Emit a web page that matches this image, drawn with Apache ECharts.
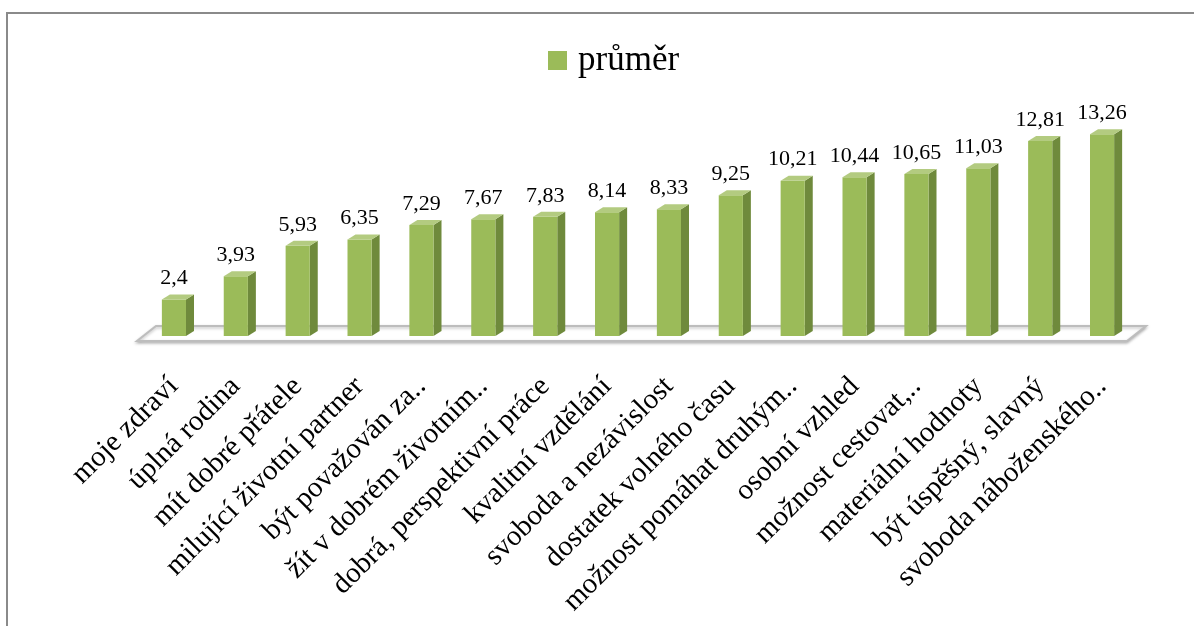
<!DOCTYPE html>
<html>
<head>
<meta charset="utf-8">
<script src="https://cdn.jsdelivr.net/npm/echarts@6/dist/echarts.min.js"></script>
<style>
html,body{margin:0;padding:0;background:#fff;}
#chart{width:1194px;height:626px;}
</style>
</head>
<body>
<div id="chart"></div>
<script>
var categories = [
  'moje zdraví',
  'úplná rodina',
  'mít dobré přátele',
  'milující životní partner',
  'být považován za..',
  'žít v dobrém životním..',
  'dobrá, perspektivní práce',
  'kvalitní vzdělání',
  'svoboda a nezávislost',
  'dostatek volného času',
  'možnost pomáhat druhým..',
  'osobní vzhled',
  'možnost cestovat,..',
  'materiální hodnoty',
  'být úspěšný, slavný',
  'svoboda náboženského..'
];
var seriesName = 'průměr';
var values = [2.4, 3.93, 5.93, 6.35, 7.29, 7.67, 7.83, 8.14, 8.33, 9.25, 10.21, 10.44, 10.65, 11.03, 12.81, 13.26];

var SERIF = '"Liberation Serif", "Times New Roman", serif';
var FRONT = '#9BBB59', SIDE = '#6F8A3C', TOP = '#B3CB80';
var DX = 8, DY = 5;

var chart = echarts.init(document.getElementById('chart'));

function fmt(v){ return String(v).replace('.', ','); }

var option = {
  animation: false,
  backgroundColor: '#ffffff',
  legend: {
    data: [seriesName],
    left: 543,
    top: 38,
    itemWidth: 19,
    itemHeight: 19,
    icon: 'rect',
    textStyle: { fontFamily: SERIF, fontSize: 35, color: '#000', padding: [0,0,0,6] }
  },
  grid: { left: 143, right: 61, top: 123, bottom: 290, containLabel: false, outerBoundsMode: 'none' },
  xAxis: {
    type: 'category',
    data: categories,
    axisLine: { show: false },
    axisTick: { show: false },
    axisLabel: {
      rotate: 45,
      interval: 0,
      margin: 46,
      fontFamily: SERIF,
      fontSize: 29,
      color: '#000'
    }
  },
  yAxis: { type: 'value', min: 0, max: 14, show: false },
  graphic: [{
    type: 'polyline',
    shape: { points: [[7, 626], [7, 13], [1194, 13]] },
    style: { stroke: '#8a8a8a', lineWidth: 2, fill: null },
    z: 100
  }],
  series: [
    {
      type: 'custom',
      name: 'floor',
      silent: true,
      clip: false,
      z: 1,
      data: [[0, 0]],
      renderItem: function (params, api) {
        var cs = params.coordSys;
        var x = cs.x, w = cs.width, b = cs.y + cs.height;
        return {
          type: 'polygon',
          shape: { points: [[x - 6, b + 5], [x + w - 6, b + 5], [x + w + 13, b - 10], [x + 13, b - 10]] },
          style: {
            fill: '#ffffff', stroke: '#BDBDBD', lineWidth: 2,
            shadowBlur: 3, shadowColor: 'rgba(0,0,0,0.25)', shadowOffsetY: 1.5
          }
        };
      }
    },
    {
      type: 'custom',
      name: seriesName,
      clip: false,
      z: 2,
      itemStyle: { color: FRONT },
      data: values.map(function (v, i) { return [i, v]; }),
      renderItem: function (params, api) {
        var cat = api.value(0), v = api.value(1);
        var top = api.coord([cat, v]);
        var bot = api.coord([cat, 0]);
        var bw = api.size([1, 0])[0] * 0.39;
        var x0 = top[0] - bw / 2, x1 = x0 + bw;
        var t = top[1], b = bot[1];
        return {
          type: 'group',
          children: [
            { type: 'polygon', shape: { points: [[x1, t], [x1 + DX, t - DY], [x1 + DX, b - DY], [x1, b]] },
              style: { fill: SIDE } },
            { type: 'rect', shape: { x: x0, y: t, width: bw, height: b - t },
              style: { fill: FRONT } },
            { type: 'polygon', shape: { points: [[x0, t], [x1, t], [x1 + DX, t - DY], [x0 + DX, t - DY]] },
              style: { fill: TOP } },
            { type: 'text', x: top[0], y: t - DY - 5,
              style: { text: fmt(v), fontFamily: SERIF, fontSize: 22, fill: '#000',
                       align: 'center', verticalAlign: 'bottom' } }
          ]
        };
      }
    }
  ]
};
chart.setOption(option);
</script>
</body>
</html>
